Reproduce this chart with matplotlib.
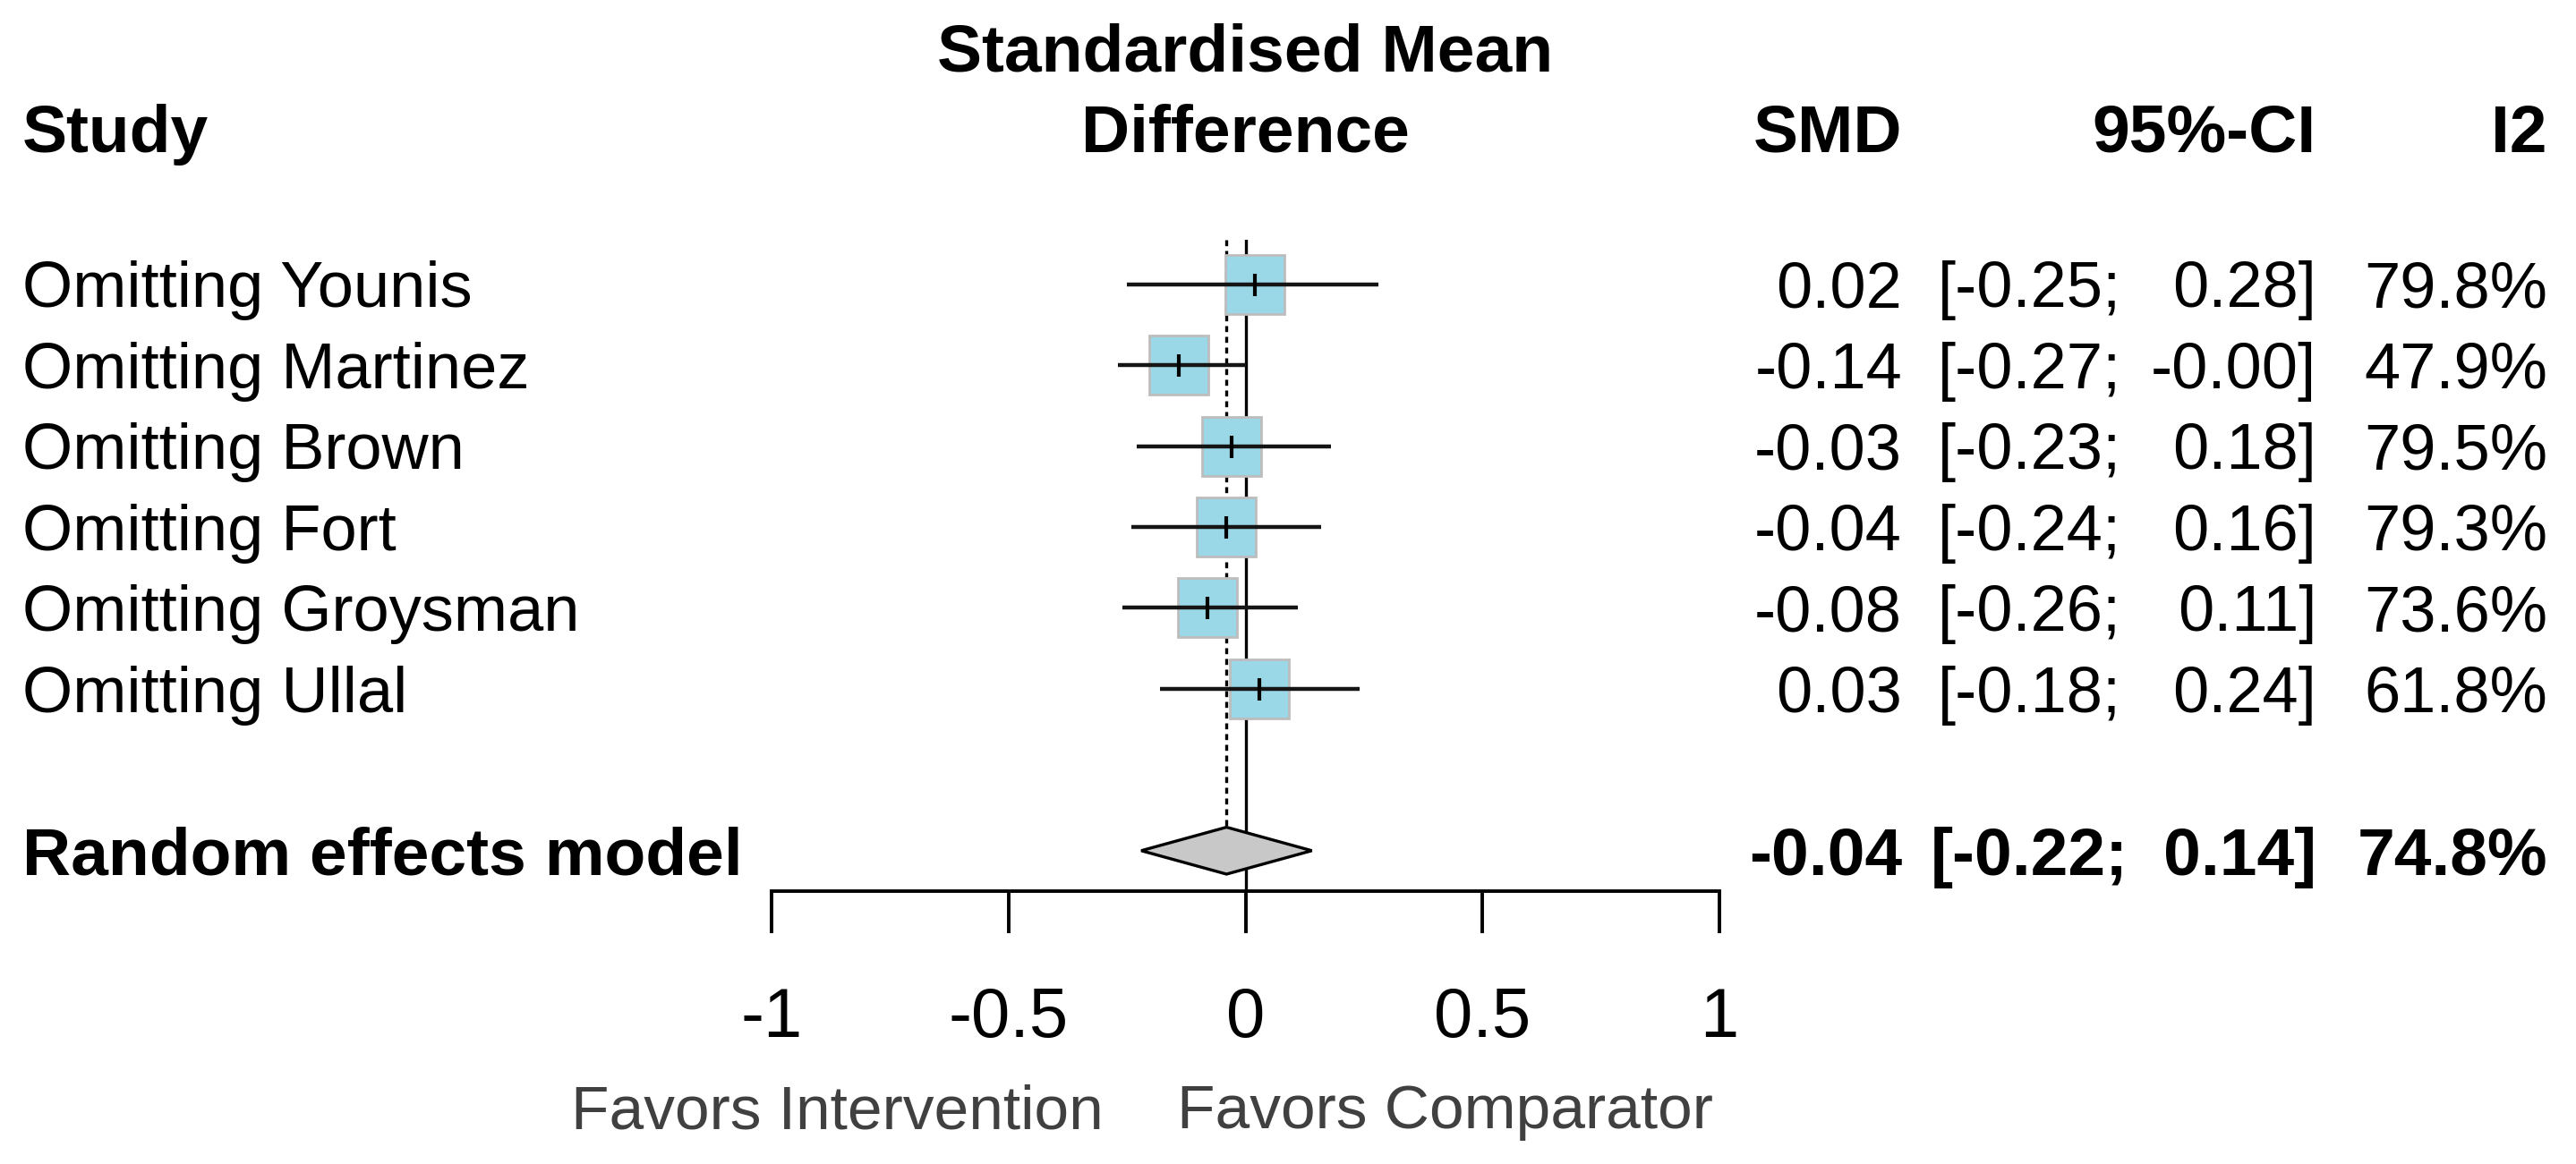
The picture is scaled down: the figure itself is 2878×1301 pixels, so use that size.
import matplotlib
matplotlib.use("Agg")
import matplotlib.pyplot as plt
from matplotlib import transforms
from matplotlib.patches import Polygon

plt.rcParams["font.family"] = ["Liberation Sans", "DejaVu Sans"]

# leave-one-out results
studies = ["Omitting Younis", "Omitting Martinez", "Omitting Brown",
           "Omitting Fort", "Omitting Groysman", "Omitting Ullal"]
smd = [0.02, -0.14, -0.03, -0.04, -0.08, 0.03]
ci_low = [-0.25, -0.27, -0.23, -0.24, -0.26, -0.18]
ci_high = [0.28, -0.00, 0.18, 0.16, 0.11, 0.24]
ci_high_txt = ["0.28", "-0.00", "0.18", "0.16", "0.11", "0.24"]
i2 = [79.8, 47.9, 79.5, 79.3, 73.6, 61.8]

pooled_label = "Random effects model"
pooled_smd = -0.04
pooled_low = -0.22
pooled_high = 0.14
pooled_i2 = 74.8

x_ticks = [-1, -0.5, 0, 0.5, 1]
tick_labels = ["-1", "-0.5", "0", "0.5", "1"]
label_left = "Favors Intervention"
label_right = "Favors Comparator"

W, H = 2878, 1301
fig = plt.figure(figsize=(W / 100, H / 100), dpi=100)
ax = fig.add_axes([862 / W, 1 - 996 / H, (1921 - 862) / W, (996 - 268) / H])

rows = list(range(1, len(studies) + 1))
pooled_row = len(studies) + 2

ax.set_xlim(-1, 1)
ax.set_ylim(8.5, 0.45)

# reference lines
ax.axvline(0, color="black", lw=2.4, zorder=1)
ax.plot([pooled_smd, pooled_smd], [0.45, pooled_row - 0.29], color="black",
        lw=2.4, linestyle=(0, (2, 1.6)), zorder=1)

# study squares, CIs and estimate ticks
ax.plot(smd, rows, linestyle="none", marker="s", markersize=47,
        markerfacecolor="#9AD8E8", markeredgecolor="#BDBDBD", markeredgewidth=2,
        zorder=2)
ax.hlines(rows, ci_low, ci_high, color="#151515", lw=3.2, zorder=3)
ax.plot(smd, rows, linestyle="none", marker="|", markersize=18,
        markeredgewidth=3, color="black", zorder=4)

# pooled diamond
dh = 0.29
diamond = Polygon([[pooled_low, pooled_row], [pooled_smd, pooled_row - dh],
                   [pooled_high, pooled_row], [pooled_smd, pooled_row + dh]],
                  closed=True, facecolor="#C8C8C8", edgecolor="black", lw=2.4,
                  zorder=5)
ax.add_patch(diamond)

# axis styling
for side in ["left", "right", "top"]:
    ax.spines[side].set_visible(False)
ax.spines["bottom"].set_linewidth(2.8)
ax.set_yticks([])
ax.set_xticks(x_ticks)
ax.set_xticklabels(tick_labels, fontsize=56)
ax.tick_params(axis="x", direction="out", length=34, width=2.8, pad=42)

# text columns
tr = transforms.blended_transform_factory(fig.transFigure, ax.transData)
fs = 52
x_study = 25 / W
x_smd = 2125 / W
x_low = 2370 / W
x_high = 2588 / W
x_i2 = 2846 / W
off = 0.08

for r, name, m, lo, hi, h in zip(rows, studies, smd, ci_low, ci_high_txt, i2):
    y = r + off
    ax.text(x_study, y, name, transform=tr, fontsize=fs, va="center", ha="left")
    ax.text(x_smd, y, f"{m:.2f}", transform=tr, fontsize=fs, va="center", ha="right")
    ax.text(x_low, y, f"[{lo:.2f};", transform=tr, fontsize=fs, va="center", ha="right")
    ax.text(x_high, y, f"{hi}]", transform=tr, fontsize=fs, va="center", ha="right")
    ax.text(x_i2, y, f"{h:.1f}%", transform=tr, fontsize=fs, va="center", ha="right")

yp = pooled_row + off
bold = dict(transform=tr, fontsize=54, fontweight="bold", va="center")
ax.text(x_study, yp, pooled_label, ha="left", **bold)
ax.text(x_smd, yp, f"{pooled_smd:.2f}", ha="right", **bold)
ax.text(x_low + 8 / W, yp, f"[{pooled_low:.2f};", ha="right", **bold)
ax.text(x_high, yp, f"{pooled_high:.2f}]", ha="right", **bold)
ax.text(x_i2, yp, f"{pooled_i2:.1f}%", ha="right", **bold)

# headers
hb = 1 - 170 / H
hdr = dict(fontsize=54, fontweight="bold", va="baseline")
fig.text(x_study, hb, "Study", ha="left", **hdr)
fig.text(x_smd, hb, "SMD", ha="right", **hdr)
fig.text(x_high, hb, "95%-CI", ha="right", **hdr)
fig.text(x_i2, hb, "I2", ha="right", **hdr)
trx = transforms.blended_transform_factory(ax.transData, fig.transFigure)
ax.text(0, 1 - 80 / H, "Standardised Mean", transform=trx, ha="center", **hdr)
ax.text(0, hb, "Difference", transform=trx, ha="center", **hdr)

# direction labels
yl = 1 - 1243 / H
ax.text(-0.30, yl, label_left, transform=trx, ha="right", va="center",
        fontsize=50, color="#404040")
ax.text(-0.145, yl, label_right, transform=trx, ha="left", va="center",
        fontsize=50, color="#404040")

fig.savefig("out.png", dpi=100, facecolor="white")
